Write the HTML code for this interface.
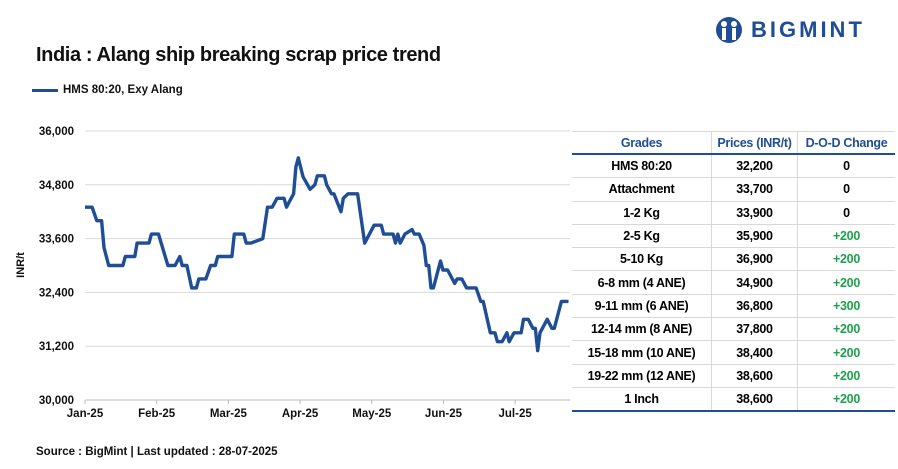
<!DOCTYPE html>
<html><head><meta charset="utf-8"><style>
body{margin:0;width:898px;height:469px;background:#fff;font-family:"Liberation Sans",sans-serif;position:relative;overflow:hidden}
.abs{position:absolute}
table{border-collapse:collapse;font-size:12.5px;font-weight:bold;letter-spacing:-0.3px}
td,th{height:22.3px;padding:0;text-align:center;border-bottom:1px solid #d8d8d8}
td+td,th+th{border-left:1px solid #d8d8d8}
th{color:#1f4e96;border-bottom:2px solid #1f4e96;height:21px}
.g{color:#1aa34a}
</style></head><body>
<div class="abs" style="left:36px;top:44px;font-size:20px;font-weight:bold;letter-spacing:-0.4px;color:#111">India : Alang ship breaking scrap price trend</div>
<div class="abs" style="left:714px;top:16px;display:flex;align-items:center">
<svg width="30" height="28" viewBox="0 0 30 28"><circle cx="15" cy="14" r="13" fill="#1f4e96"/><circle cx="10" cy="8" r="3" fill="#fff"/><circle cx="20" cy="8" r="3" fill="#fff"/><rect x="8" y="12" width="4" height="12" fill="#fff"/><rect x="18" y="12" width="4" height="12" fill="#fff"/></svg>
<span style="font-size:22px;font-weight:bold;color:#1f4e96;letter-spacing:3px;margin-left:7px">BIGMINT</span></div>
<div class="abs" style="left:32px;top:84px;display:flex;align-items:center;font-size:11.5px;font-weight:bold;color:#111"><span style="display:inline-block;width:26px;height:3px;background:#1f4e96;margin-right:5px"></span>HMS 80:20, Exy Alang</div>
<svg class="abs" style="left:0;top:0" width="898" height="469">
<g id="grid"></g><g id="ax"></g><path id="line" fill="none" stroke="#1f4e96" stroke-width="3.4" stroke-linejoin="round"/>
<text transform="translate(24,265) rotate(-90)" text-anchor="middle" font-size="11" font-weight="bold" fill="#111">INR/t</text>
</svg>
<table class="abs" style="left:572px;top:131px;width:323px;border-top:1px solid #d8d8d8;border-bottom:2px solid #1f4e96">
<tr><th style="width:139px">Grades</th><th style="width:85px">Prices (INR/t)</th><th>D-O-D Change</th></tr>
<tr><td>HMS 80:20</td><td>32,200</td><td>0</td></tr>
<tr><td>Attachment</td><td>33,700</td><td>0</td></tr>
<tr><td>1-2 Kg</td><td>33,900</td><td>0</td></tr>
<tr><td>2-5 Kg</td><td>35,900</td><td class="g">+200</td></tr>
<tr><td>5-10 Kg</td><td>36,900</td><td class="g">+200</td></tr>
<tr><td>6-8 mm (4 ANE)</td><td>34,900</td><td class="g">+200</td></tr>
<tr><td>9-11 mm (6 ANE)</td><td>36,800</td><td class="g">+300</td></tr>
<tr><td>12-14 mm (8 ANE)</td><td>37,800</td><td class="g">+200</td></tr>
<tr><td>15-18 mm (10 ANE)</td><td>38,400</td><td class="g">+200</td></tr>
<tr><td>19-22 mm (12 ANE)</td><td>38,600</td><td class="g">+200</td></tr>
<tr><td>1 Inch</td><td>38,600</td><td class="g">+200</td></tr>
</table>
<div class="abs" style="left:36px;top:446px;font-size:11.5px;font-weight:bold;color:#111">Source : BigMint | Last updated : 28-07-2025</div>
<script>
const days=[0,3,5,7,8,10,16,17,21,22,27,28,31,35,38,40,41,43,45,47,48,51,53,55,56,62,63,67,68,70,75,77,79,81,84,85,86,88,89,90,92,95,97,98,101,102,104,105,108,109,111,115,118,122,125,126,130,131,132,133,135,138,139,141,143,144,145,146,147,150,151,153,156,157,159,161,165,167,168,171,173,174,176,178,179,181,184,185,187,189,190,191,192,195,197,198,201,204];
const prices=[34300,34300,34000,34000,33400,33000,33000,33200,33200,33500,33500,33700,33700,33000,33000,33200,33000,33000,32500,32500,32700,32700,33000,33000,33200,33200,33700,33700,33500,33500,33600,34300,34300,34500,34500,34300,34400,34600,35200,35400,34980,34700,34800,35000,35000,34800,34600,34600,34200,34500,34600,34600,33500,33900,33900,33700,33700,33500,33700,33500,33700,33800,33700,33700,33450,33000,33000,32500,32500,33100,32900,32900,32600,32700,32700,32500,32500,32200,32200,31500,31500,31300,31300,31500,31300,31500,31500,31800,31800,31600,31600,31100,31500,31800,31600,31600,32200,32200];
const yTicks=[30000,31200,32400,33600,34800,36000];
const monthLabels=["Jan-25","Feb-25","Mar-25","Apr-25","May-25","Jun-25","Jul-25"];
const monthDays=[0,30.25,60.5,90.75,121,151.25,181.5];
const X=d=>85+d*2.37, Y=v=>400-(v-30000)/6000*269;
const NS="http://www.w3.org/2000/svg";
const grid=document.getElementById('grid'),ax=document.getElementById('ax');
yTicks.forEach(t=>{
 const l=document.createElementNS(NS,'line');
 
 
 l.setAttribute('x1',85);l.setAttribute('x2',570);l.setAttribute('y1',Y(t));l.setAttribute('y2',Y(t));
 l.setAttribute('stroke',t==30000?'#bbb':'#d9d9d9');l.setAttribute('stroke-width',1);grid.appendChild(l);
 const tx=document.createElementNS(NS,'text');
 
 
 tx.setAttribute('x',74);tx.setAttribute('y',Y(t)+4);tx.setAttribute('text-anchor','end');
 tx.setAttribute('font-size',11.5);tx.setAttribute('font-weight','bold');tx.setAttribute('fill','#111');
 tx.textContent=t.toLocaleString('en-US');ax.appendChild(tx);
});
monthLabels.forEach((m,i)=>{
 const x=X(monthDays[i]);
 const l=document.createElementNS(NS,'line');
 
 
 l.setAttribute('x1',x);l.setAttribute('x2',x);l.setAttribute('y1',400);l.setAttribute('y2',404);l.setAttribute('stroke','#bbb');ax.appendChild(l);
 const tx=document.createElementNS(NS,'text');
 
 
 tx.setAttribute('x',x);tx.setAttribute('y',417);tx.setAttribute('text-anchor','middle');
 tx.setAttribute('font-size',11.5);tx.setAttribute('font-weight','bold');tx.setAttribute('fill','#111');
 tx.textContent=m;ax.appendChild(tx);
});
const line=document.getElementById('line');


line.setAttribute('d',days.map((d,i)=>(i?'L':'M')+X(d).toFixed(1)+','+Y(prices[i]).toFixed(1)).join(''));
</script>
</body></html>
